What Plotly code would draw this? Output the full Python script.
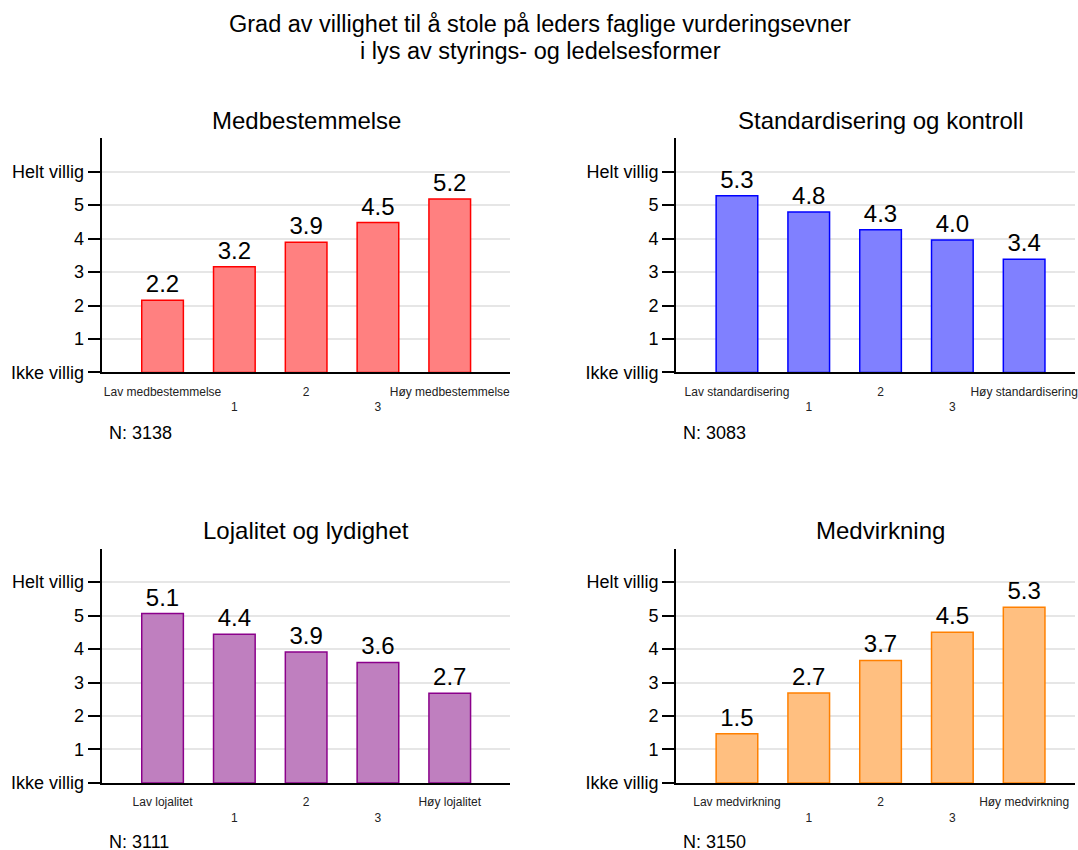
import plotly.graph_objects as go

title_line1 = "Grad av villighet til å stole på leders faglige vurderingsevner"
title_line2 = "i lys av styrings- og ledelsesformer"

panel_titles = ["Medbestemmelse", "Standardisering og kontroll", "Lojalitet og lydighet", "Medvirkning"]
tick_labels = [
    ["Lav medbestemmelse", "1", "2", "3", "Høy medbestemmelse"],
    ["Lav standardisering", "1", "2", "3", "Høy standardisering"],
    ["Lav lojalitet", "1", "2", "3", "Høy lojalitet"],
    ["Lav medvirkning", "1", "2", "3", "Høy medvirkning"],
]
values_medbestemmelse = [2.16, 3.16, 3.89, 4.48, 5.18]
values_standardisering = [5.28, 4.79, 4.26, 3.96, 3.38]
values_lojalitet = [5.06, 4.44, 3.91, 3.60, 2.68]
values_medvirkning = [1.47, 2.69, 3.66, 4.50, 5.25]
n_values = [3138, 3083, 3111, 3150]
y_tick_vals = [0, 1, 2, 3, 4, 5, 6]
y_tick_text = ["Ikke villig", "1", "2", "3", "4", "5", "Helt villig"]

series = [values_medbestemmelse, values_standardisering, values_lojalitet, values_medvirkning]
fills = ["#FF8080", "#8080FF", "#BF7FBF", "#FFBF80"]
lines = ["#FF0000", "#0000FF", "#8B008B", "#FF8000"]

W, H = 1078, 861
REF_H = 850.0
FONT = "Liberation Sans, Arial, sans-serif"


def py(v):
    # convert a target image y (px from top) into paper fraction
    return 1 - (v / REF_H)


# pixel geometry of each panel: (axis left px, right px, top px, bottom px)
panels = [
    (102, 511, 138, 372),
    (678, 1078, 138, 372),
    (102, 511, 548, 782),
    (678, 1078, 548, 782),
]
cat_px = 72.0
first_center_offset = 61.0

fig = go.Figure()
layout = {}
annotations = []
for i in range(4):
    xl, xr, yt, yb = panels[i]
    sfx = "" if i == 0 else str(i + 1)
    xa, ya = "x" + sfx, "y" + sfx
    cats = list(range(5))
    fig.add_trace(go.Bar(
        x=cats, y=series[i], xaxis=xa, yaxis=ya, width=0.58,
        marker=dict(color=fills[i], line=dict(color=lines[i], width=1.5)),
        texttemplate="%{y:.1f}", textposition="outside",
        textfont=dict(size=24, color="#000000", family=FONT),
        cliponaxis=False, showlegend=False, hoverinfo="skip",
    ))
    xmin = -first_center_offset / cat_px
    xmax = xmin + (xr - xl) / cat_px
    ticktext = [t if k % 2 == 0 else "<br>" + t for k, t in enumerate(tick_labels[i])]
    layout["xaxis" + sfx] = dict(
        domain=[xl / W, xr / W], range=[xmin, xmax], anchor=ya,
        tickvals=cats, ticktext=ticktext, ticks="outside", ticklen=7,
        tickcolor="rgba(0,0,0,0)", tickfont=dict(size=12, family=FONT, color="#222"),
        ticklabeloverflow="allow",
        showline=True, linecolor="#000", linewidth=2, showgrid=False,
        zeroline=False, fixedrange=True,
    )
    layout["yaxis" + sfx] = dict(
        domain=[py(yb), py(yt)], range=[0, 7], anchor=xa,
        tickvals=y_tick_vals, ticktext=y_tick_text, ticks="outside", ticklen=12,
        tickwidth=1.5, tickcolor="#000", tickfont=dict(size=18, family=FONT, color="#000"),
        showline=True, linecolor="#000", linewidth=2, showgrid=True,
        gridcolor="#E6E6E6", gridwidth=1.5, zeroline=False, fixedrange=True,
    )
    cx = 307 if i % 2 == 0 else 883
    ty = 120 if i < 2 else 530
    annotations.append(dict(text=panel_titles[i], x=cx / W, y=py(ty), xref="paper", yref="paper",
                            showarrow=False, xanchor="center", yanchor="middle",
                            font=dict(size=24, family=FONT, color="#000")))
    ny = 432 if i < 2 else 841
    annotations.append(dict(text="N: %d" % n_values[i], x=(xl + 5) / W, y=py(ny), xref="paper", yref="paper",
                            showarrow=False, xanchor="left", yanchor="middle",
                            font=dict(size=18, family=FONT, color="#000")))

for txt, yy in [(title_line1, 24), (title_line2, 51)]:
    annotations.append(dict(text=txt, x=542 / W, y=py(yy), xref="paper", yref="paper",
                            showarrow=False, xanchor="center", yanchor="middle",
                            font=dict(size=23.5, family=FONT, color="#000")))

fig.update_layout(
    width=W, height=H, margin=dict(l=0, r=0, t=0, b=0),
    paper_bgcolor="white", plot_bgcolor="white",
    annotations=annotations, **layout,
)
fig.write_html(
    "out.html", config={"displayModeBar": False},
    post_script=(
        "document.documentElement.style.margin='0';"
        "document.body.style.margin='0';document.body.style.padding='0';"
    ),
)
